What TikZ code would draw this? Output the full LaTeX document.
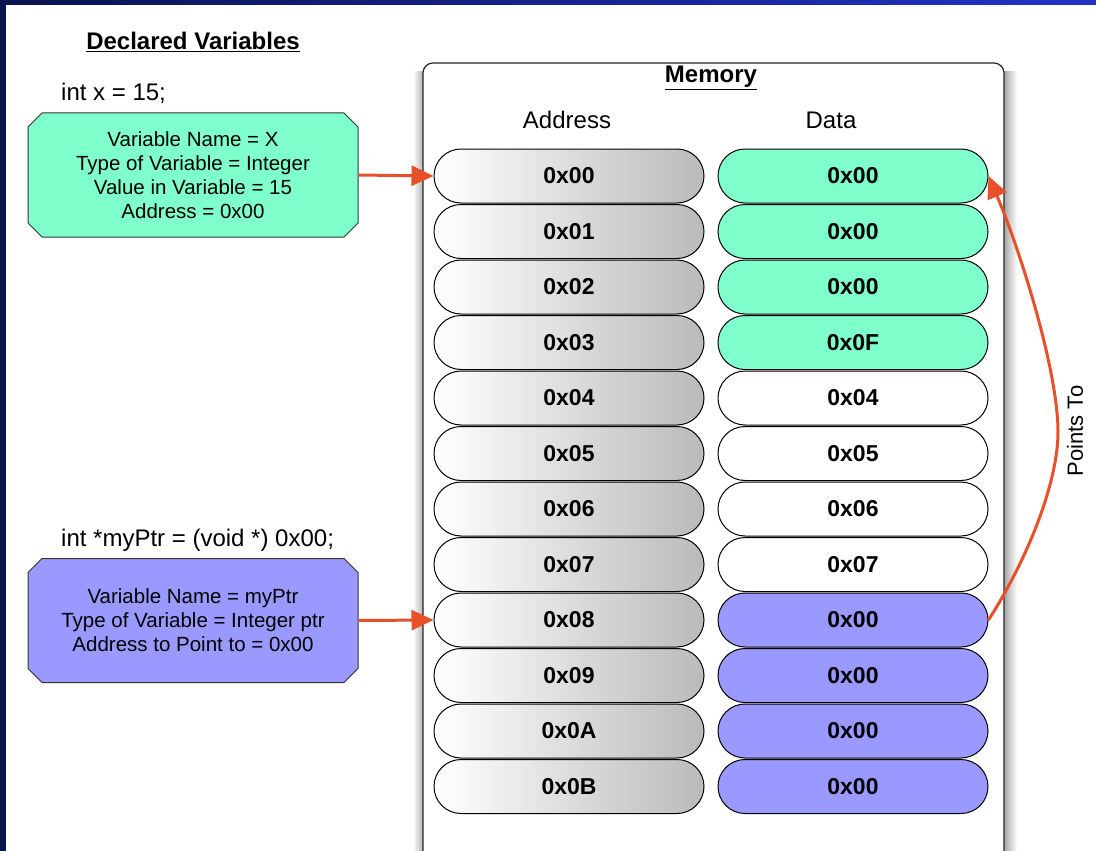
\documentclass[tikz,border=0pt]{standalone}
\usepackage{fontspec}
\setmainfont{Liberation Sans}
\usetikzlibrary{shapes.misc,arrows.meta}
\definecolor{navyframe}{RGB}{10,18,80}
\definecolor{brightframe}{RGB}{34,51,200}
\definecolor{intgreen}{RGB}{127,255,204}
\definecolor{ptrblue}{RGB}{153,153,255}
\definecolor{linkred}{RGB}{232,80,42}
\newcommand{\labelfont}{\fontsize{24}{28}\selectfont}

\tikzset{
    varbox/.style={chamfered rectangle, chamfered rectangle xsep=7pt,
        chamfered rectangle ysep=7pt, draw=black!80, line width=1pt,
        minimum width=330pt, minimum height=124pt, inner sep=0pt,
        align=center, font=\fontsize{20.5}{24}\selectfont},
    cell/.style={rounded rectangle, draw=black, line width=1pt,
        minimum width=270pt, minimum height=54pt, inner sep=0pt,
        font=\bfseries\fontsize{23}{26}\selectfont},
    addrcell/.style={cell, left color=white, right color=black!27},
    link/.style={draw=linkred, line width=3pt,
        -{Triangle[length=22pt,width=20pt]}}
}

\begin{document}
\begin{tikzpicture}[x=1pt,y=-1pt]
    \useasboundingbox (0,0) rectangle (1096,851);
    \clip (0,0) rectangle (1096,851);
    % frame of the slide
    \fill[navyframe] (0,0) rectangle (1096,851);
    \shade[left color=navyframe, right color=brightframe] (0,0) rectangle (1096,5);
    \fill[white] (6,5) rectangle (1096,851);

    % memory block
    \shade[left color=white, right color=black!30] (413,72) rectangle (423,851);
    \shade[left color=black!35, right color=white] (1004,72) rectangle (1017,851);
    \draw[black!85, line width=1.2pt, fill=white, rounded corners=10pt]
        (423,63) rectangle (1004,880);
    \node[font=\bfseries\labelfont] (memtitle) at (711,78) {\underline{Memory}};
    \node[font=\labelfont] (addrhead) at (567,120) {Address};
    \node[font=\labelfont] (datahead) at (831,120) {Data};

    \foreach \lbl [count=\k from 0] in {0x00,0x01,0x02,0x03,0x04,0x05,0x06,0x07,0x08,0x09,0x0A,0x0B}
        \node[addrcell] (a\k) at (569,{176+55.5*\k}) {\lbl};
    \foreach \val/\col [count=\k from 0] in {0x00/intgreen,0x00/intgreen,0x00/intgreen,0x0F/intgreen,
        0x04/white,0x05/white,0x06/white,0x07/white,
        0x00/ptrblue,0x00/ptrblue,0x00/ptrblue,0x00/ptrblue}
        \node[cell, fill=\col] (d\k) at (853,{176+55.5*\k}) {\val};

    % declared variables
    \node[font=\bfseries\labelfont] (decl) at (193,42) {\underline{Declared Variables}};
    \node[font=\labelfont, anchor=west, inner sep=0pt] (xdecl) at (61,93) {int x = 15;};
    \node[varbox, fill=intgreen] (xvar) at (193,175)
        {Variable Name = X\\Type of Variable = Integer\\Value in Variable = 15\\Address = 0x00};
    \node[font=\labelfont, anchor=west, inner sep=0pt] (ptrdecl) at (61,540) {int *myPtr = (void *) 0x00;};
    \node[varbox, fill=ptrblue] (ptrvar) at (193,620.5)
        {Variable Name = myPtr\\Type of Variable = Integer ptr\\Address to Point to = 0x00};

    \draw[link] (xvar.east) -- (a0.west);
    \draw[link] (ptrvar.east) -- (a8.west);
    \coordinate (bend) at (1058,432);
    \draw[link] (d8.east) .. controls (1030,555) and (1058,480) .. (bend)
        .. controls (1058,370) and (1020,250) .. (d0.east);
    \node[font=\fontsize{22}{26}\selectfont, rotate=90] (pointsto) at (1075,431) {Points To};
\end{tikzpicture}
\end{document}
